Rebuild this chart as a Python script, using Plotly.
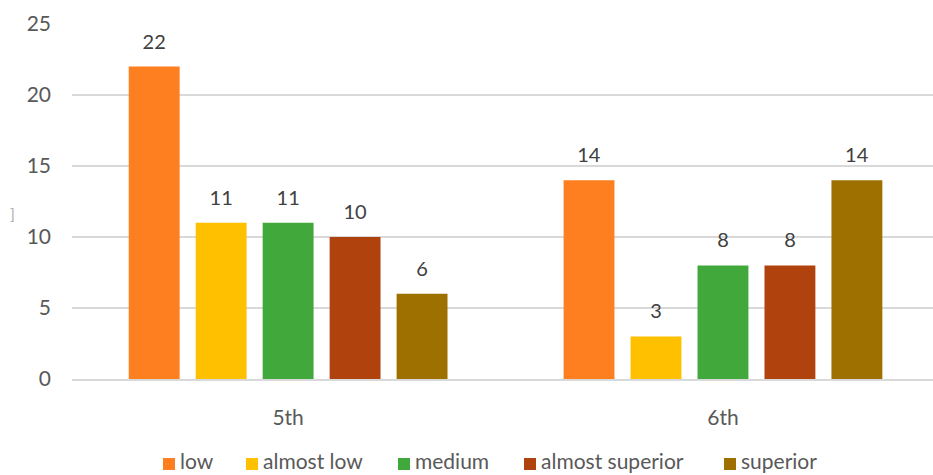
import plotly.graph_objects as go

# Grade groups and performance levels
grades = ["5th", "6th"]
levels = ["low", "almost low", "medium", "almost superior", "superior"]
counts = {
    "low": [22, 14],
    "almost low": [11, 3],
    "medium": [11, 8],
    "almost superior": [10, 8],
    "superior": [6, 14],
}
colors = ["#FD7F20", "#FFC000", "#41A93B", "#B0420E", "#9E7000"]

TEXT = "#595959"
FONT = "Lato, 'Open Sans', sans-serif"

W, H = 933, 475
ML, MR, MT, MB = 72, 0, 24, 96
PW, PH = W - ML - MR, H - MT - MB

fig = go.Figure()
for name, col in zip(levels, colors):
    fig.add_trace(go.Bar(
        x=grades,
        y=counts[name],
        name=name,
        marker=dict(color=col, line=dict(width=0)),
        text=counts[name],
        # small base font keeps the spacer line short; the value itself is larger
        texttemplate="<span style='font-size:20px'>%{y}</span><br>&nbsp;",
        textposition="outside",
        textfont=dict(size=10, color="#404040", family=FONT),
        cliponaxis=False,
        showlegend=False,
    ))

# Legend row drawn as colour keys plus labels along the bottom
legend_left_px = [163, 246, 398, 524, 724]
shapes = []
annotations = []
for name, col, px in zip(levels, colors, legend_left_px):
    x0 = (px - ML) / PW
    x1 = (px + 12 - ML) / PW
    y0 = (MT + PH - 470) / PH
    y1 = (MT + PH - 458) / PH
    shapes.append(dict(type="rect", xref="paper", yref="paper",
                       x0=x0, x1=x1, y0=y0, y1=y1,
                       fillcolor=col, line=dict(width=0)))
    annotations.append(dict(xref="paper", yref="paper",
                            x=(px + 16 - ML) / PW, y=(MT + PH - 461) / PH,
                            xanchor="left", yanchor="middle",
                            borderpad=0,
                            text=name, showarrow=False,
                            font=dict(size=21, color=TEXT, family=FONT)))

# faint bracket left over from the y-axis title
annotations.append(dict(xref="paper", yref="paper",
                        x=(13 - ML) / PW, y=(MT + PH - 214) / PH,
                        xanchor="center", yanchor="middle",
                        text="]", showarrow=False,
                        font=dict(size=16, color="#B0B0B0", family=FONT)))

fig.update_layout(
    width=W,
    height=H,
    margin=dict(l=ML, r=MR, t=MT, b=MB, autoexpand=False),
    paper_bgcolor="white",
    plot_bgcolor="white",
    barmode="group",
    bargap=0.23,
    bargroupgap=0.24,
    font=dict(family=FONT, color=TEXT, size=16),
    showlegend=False,
    shapes=shapes,
    annotations=annotations,
    xaxis=dict(
        range=[-0.497, 1.483],
        showgrid=False,
        showline=True,
        linecolor="#D9D9D9",
        linewidth=1.5,
        ticks="",
        ticklabelstandoff=19,
        tickfont=dict(size=21, color=TEXT),
    ),
    yaxis=dict(
        range=[0, 25],
        tickvals=[0, 5, 10, 15, 20, 25],
        showgrid=True,
        gridcolor="#D9D9D9",
        gridwidth=1.5,
        zeroline=False,
        showline=False,
        ticks="",
        ticklabelstandoff=20,
        tickfont=dict(size=21, color=TEXT),
    ),
)

fig.write_html("out.html")
